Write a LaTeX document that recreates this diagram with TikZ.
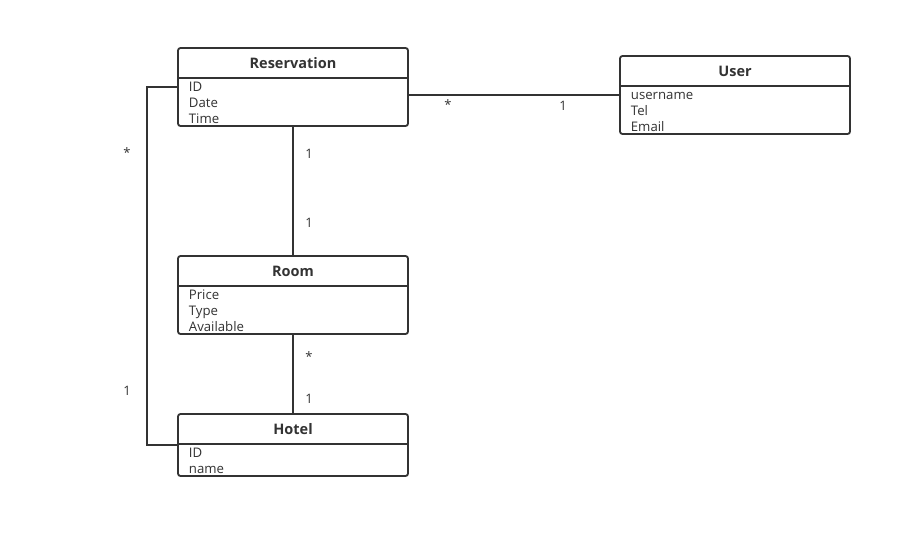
\documentclass[tikz,border=0pt]{standalone}
\usepackage{fontspec}
\setmainfont{Open Sans}
\usepackage{tikz}

\begin{document}
\begin{tikzpicture}[x=1pt,y=-1pt,
  line width=1.8pt,color={rgb,255:red,51;green,51;blue,51},
  cls/.style={draw,rounded corners=2.5pt,minimum width=230pt,inner sep=0pt},
  title/.style={font=\fontsize{14.5}{16}\selectfont\bfseries},
  attr/.style={font=\fontsize{13.2}{15}\selectfont,anchor=base west,inner sep=0pt},
  mult/.style={font=\fontsize{13}{15}\selectfont,inner sep=0pt}]
\useasboundingbox (0,0) rectangle (912,538);
\fill[white] (0,0) rectangle (912,538);
% classes
\node[cls,minimum height=78pt] (res) at (293,87) {};
\node[cls,minimum height=78pt] (user) at (735,95) {};
\node[cls,minimum height=78pt] (room) at (293,295) {};
\node[cls,minimum height=62pt] (hotel) at (293,445) {};
\draw (178,78) -- (408,78);
\draw (620,86) -- (850,86);
\draw (178,286) -- (408,286);
\draw (178,444) -- (408,444);
\node[title] (restitle) at (293,63) {Reservation};
\node[title] (usertitle) at (735,71) {User};
\node[title] (roomtitle) at (293,271) {Room};
\node[title] (hoteltitle) at (293,429) {Hotel};
\node[attr] (resid) at (188,91) {ID};
\node[attr] (resdate) at (188,107) {Date};
\node[attr] (restime) at (188,123) {Time};
\node[attr] (username) at (630,99) {username};
\node[attr] (usertel) at (630,115) {Tel};
\node[attr] (usermail) at (630,131) {Email};
\node[attr] (roomprice) at (188,299) {Price};
\node[attr] (roomtype) at (188,315) {Type};
\node[attr] (roomavail) at (188,331) {Available};
\node[attr] (hotelid) at (188,457) {ID};
\node[attr] (hotelname) at (188,473) {name};
% associations
\draw (user.west) -- (user.west -| res.east);
\draw (res.south) -- (room.north);
\draw (room.south) -- (hotel.north);
\draw (res.west) -- ++(-30,0) |- (hotel.west);
\node[mult] (m1) at (448,105) {*};
\node[mult] (m2) at (563,106) {1};
\node[mult] (m3) at (309,154) {1};
\node[mult] (m4) at (309,223) {1};
\node[mult] (m5) at (309,357) {*};
\node[mult] (m6) at (309,399) {1};
\node[mult] (m7) at (127,153) {*};
\node[mult] (m8) at (127,391) {1};
\end{tikzpicture}
\end{document}
